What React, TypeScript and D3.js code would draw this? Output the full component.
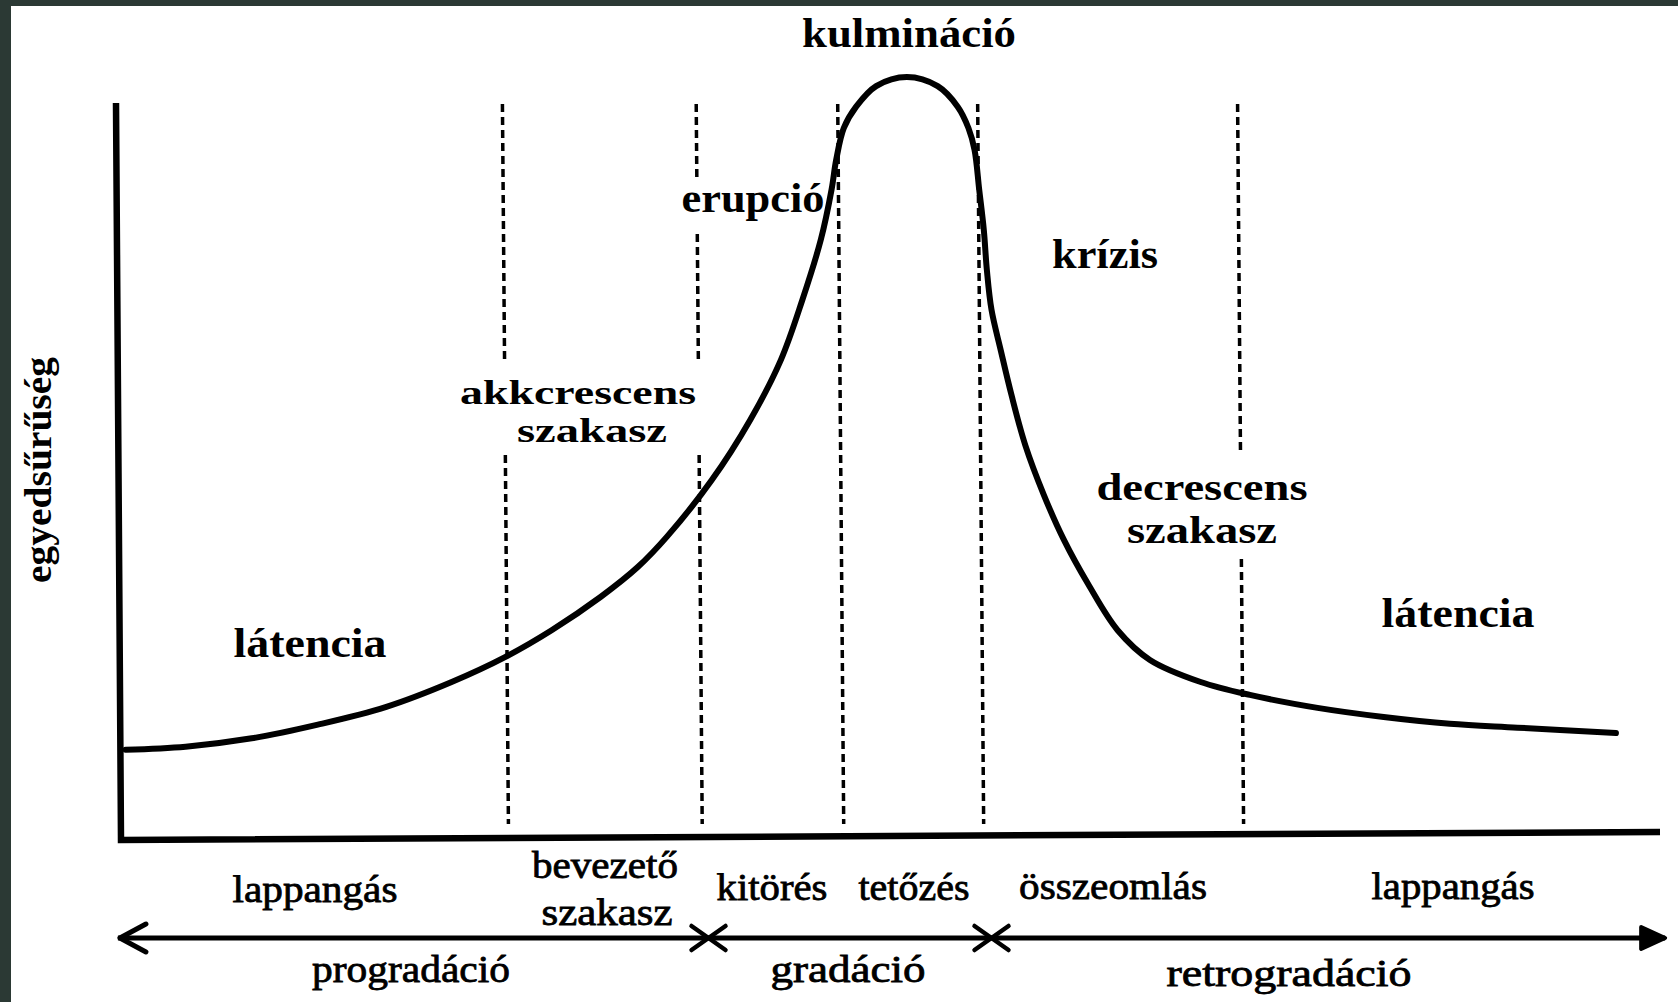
import React from "react";
import * as d3 from "d3";

// ---------- data ----------
// population-density curve: time (0-100) vs density (0-100)
const curveTime = [
  0.3, 4.2, 8.5, 12.8, 17.2, 21.5, 25.0, 28.0, 31.2, 33.6, 35.5, 38.4, 40.9, 42.9, 44.3,
  45.5, 46.2, 46.5, 47.0, 47.8, 49.1, 51.1, 53.1, 54.4, 55.1, 55.5, 55.8, 56.1, 56.3, 56.6,
  57.2, 57.9, 58.8, 60.0, 61.3, 62.9, 64.8, 66.9, 70.2, 73.4, 77.8, 82.1, 86.4, 90.8, 97.2,
];
const curveDensity = [
  11.6, 12.0, 13.1, 14.9, 17.2, 20.5, 23.8, 27.3, 31.7, 35.6, 39.6, 47.0, 54.9, 62.8, 70.7,
  78.6, 85.2, 89.1, 93.3, 96.1, 98.8, 100.0, 98.8, 96.1, 93.3, 90.4, 85.2, 79.9, 74.6, 69.4,
  64.1, 58.2, 51.6, 45.1, 39.2, 33.3, 27.3, 23.4, 20.5, 18.8, 17.1, 15.9, 15.0, 14.5, 13.8,
];

// dashed phase boundaries (time)
const phaseBoundaries = [24.8, 37.4, 46.6, 55.7, 72.6];
// period arrow: ends and break marks (time)
const periodArrowEnds = [-0.2, 100.4];
const periodBreaks = [38.2, 56.6];

// texts
const curveLabels = [
  "kulmináció", "erupció", "krízis", "akkcrescens", "szakasz",
  "decrescens", "szakasz", "látencia", "látencia",
];
const phaseLabels = ["lappangás", "bevezető", "szakasz", "kitörés", "tetőzés", "összeomlás", "lappangás"];
const periodLabels = ["progradáció", "gradáció", "retrogradáció"];
const yAxisLabel = "egyedsűrűség";

// ---------- layout ----------
const W = 1678;
const H = 1002;
const curveLabelPos = [
  { x: 909, y: 47, w: 214, fs: 42 },
  { x: 753, y: 212, w: 143, fs: 42 },
  { x: 1105, y: 268, w: 106, fs: 42 },
  { x: 578, y: 404, w: 236, fs: 34 },
  { x: 592, y: 442, w: 150, fs: 34 },
  { x: 1202, y: 500, w: 211, fs: 38 },
  { x: 1202, y: 543, w: 150, fs: 38 },
  { x: 310, y: 657, w: 153, fs: 42 },
  { x: 1458, y: 627, w: 153, fs: 42 },
];
const phaseLabelPos = [
  { x: 315, y: 902, w: 165 },
  { x: 605, y: 878, w: 146 },
  { x: 607, y: 925, w: 131 },
  { x: 772, y: 900, w: 111 },
  { x: 914, y: 900, w: 111 },
  { x: 1113, y: 899, w: 188 },
  { x: 1453, y: 899, w: 163 },
];
const periodLabelPos = [
  { x: 411, y: 982, w: 198 },
  { x: 848, y: 982, w: 155 },
  { x: 1289, y: 986, w: 245 },
];
// white boxes behind text blocks (interrupting dashed lines)
const whiteBoxes = [
  { x: 455, y: 362, w: 250, h: 92 },
  { x: 676, y: 178, w: 148, h: 56 },
  { x: 1090, y: 450, w: 225, h: 106 },
];

export default function App() {
  const x = d3.scaleLinear().domain([0, 100]).range([121, 1659]);
  const y = d3.scaleLinear().domain([0, 100]).range([838, 77]);

  const pts: [number, number][] = curveTime.map((t, i) => [t, curveDensity[i]]);
  const line = d3
    .line<[number, number]>()
    .x((d) => x(d[0]))
    .y((d) => y(d[1]))
    .curve(d3.curveCatmullRom.alpha(0.5));

  const dashTop = 104;
  const dashBottom = 824;
  const slant = 6;
  const arrowY = 938;

  const serif = "'Liberation Serif', 'Times New Roman', serif";

  return (
    <svg
      width={W}
      height={H}
      viewBox={`0 0 ${W} ${H}`}
      style={{ position: "fixed", left: 0, top: 0, background: "#fff" }}
    >
      <rect x={0} y={0} width={W} height={H} fill="#fff" />
      {/* frame remnants */}
      <rect x={0} y={0} width={W} height={6} fill="#2b3934" />
      <rect x={0} y={0} width={11} height={H} fill="#2b3934" />

      {/* dashed boundaries */}
      {phaseBoundaries.map((t, i) => (
        <line
          key={"d" + i}
          x1={x(t)}
          y1={dashTop}
          x2={x(t) + slant}
          y2={dashBottom}
          stroke="#000"
          strokeWidth={3.5}
          strokeDasharray="8 5"
        />
      ))}

      {whiteBoxes.map((b, i) => (
        <rect key={"b" + i} x={b.x} y={b.y} width={b.w} height={b.h} fill="#fff" />
      ))}

      {/* axes */}
      <path
        d={`M116,103 L121,840 L1660,832`}
        fill="none"
        stroke="#000"
        strokeWidth={6.5}
        strokeLinejoin="miter"
      />

      {/* curve */}
      <path d={line(pts) || ""} fill="none" stroke="#000" strokeWidth={6} strokeLinecap="round" />

      {/* curve labels */}
      {curveLabels.map((s, i) => (
        <text
          key={"c" + i}
          x={curveLabelPos[i].x}
          y={curveLabelPos[i].y}
          textAnchor="middle"
          fontFamily={serif}
          fontWeight="bold"
          fontSize={curveLabelPos[i].fs}
          textLength={curveLabelPos[i].w}
          lengthAdjust="spacingAndGlyphs"
          fill="#000"
        >
          {s}
        </text>
      ))}

      {/* y label */}
      <text
        transform="translate(51,470) rotate(-90)"
        textAnchor="middle"
        fontFamily={serif}
        fontWeight="bold"
        fontSize={38}
        textLength={226}
        lengthAdjust="spacingAndGlyphs"
        fill="#000"
      >
        {yAxisLabel}
      </text>

      {/* phase labels */}
      {phaseLabels.map((s, i) => (
        <text
          key={"p" + i}
          x={phaseLabelPos[i].x}
          y={phaseLabelPos[i].y}
          textAnchor="middle"
          fontFamily={serif}
          fontSize={38}
          textLength={phaseLabelPos[i].w}
          lengthAdjust="spacingAndGlyphs"
          fill="#000"
          stroke="#000"
          strokeWidth={0.8}
        >
          {s}
        </text>
      ))}

      {/* period arrow */}
      <line
        x1={x(periodArrowEnds[0])}
        y1={arrowY}
        x2={x(periodArrowEnds[1])}
        y2={arrowY}
        stroke="#000"
        strokeWidth={5}
      />
      <path
        d={`M${x(periodArrowEnds[0]) + 28},${arrowY - 14} L${x(periodArrowEnds[0]) + 2},${arrowY} L${x(periodArrowEnds[0]) + 28},${arrowY + 14}`}
        fill="none"
        stroke="#000"
        strokeWidth={5}
        strokeLinecap="round"
        strokeLinejoin="round"
      />
      <path
        d={`M${x(periodArrowEnds[1]) - 24},${arrowY - 11} L${x(periodArrowEnds[1])},${arrowY} L${x(periodArrowEnds[1]) - 24},${arrowY + 11} Z`}
        fill="#000"
        stroke="#000"
        strokeWidth={4}
        strokeLinejoin="round"
      />
      {periodBreaks.map((t, i) => (
        <path
          key={"x" + i}
          d={`M${x(t) - 17},${arrowY - 12} L${x(t) + 17},${arrowY + 12} M${x(t) - 17},${arrowY + 12} L${x(t) + 17},${arrowY - 12}`}
          stroke="#000"
          strokeWidth={4.5}
          strokeLinecap="round"
          fill="none"
        />
      ))}

      {/* period labels */}
      {periodLabels.map((s, i) => (
        <text
          key={"g" + i}
          x={periodLabelPos[i].x}
          y={periodLabelPos[i].y}
          textAnchor="middle"
          fontFamily={serif}
          fontSize={38}
          textLength={periodLabelPos[i].w}
          lengthAdjust="spacingAndGlyphs"
          fill="#000"
          stroke="#000"
          strokeWidth={0.8}
        >
          {s}
        </text>
      ))}
    </svg>
  );
}
